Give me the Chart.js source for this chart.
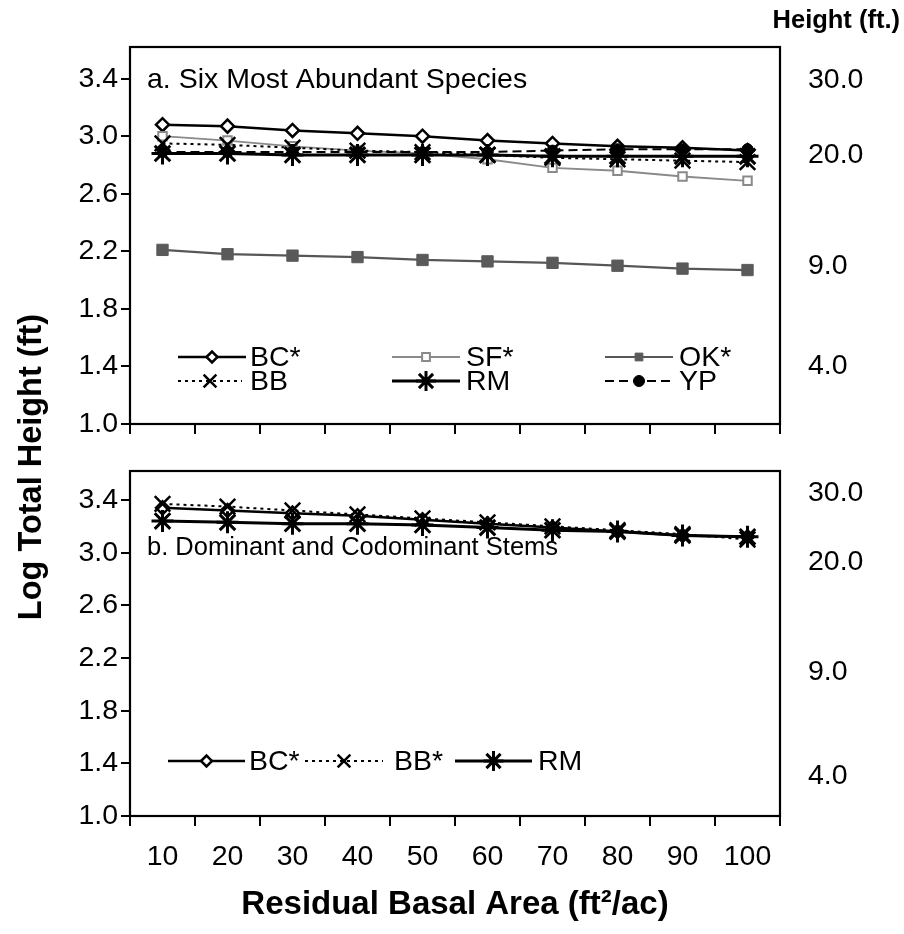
<!DOCTYPE html>
<html><head><meta charset="utf-8">
<script src="https://cdn.jsdelivr.net/npm/chart.js@4.4.1/dist/chart.umd.min.js"></script>
<style>
body{margin:0;background:#fff;width:904px;height:934px;position:relative;overflow:hidden;font-family:"Liberation Sans",Arial,sans-serif;}
.wrap{position:absolute;left:0;}
#ytitle{position:absolute;left:-270px;top:448px;width:600px;text-align:center;font-weight:bold;font-size:32.5px;line-height:38px;transform:rotate(-90deg);color:#000;}
#rtitle{position:absolute;right:4px;top:4px;font-weight:bold;font-size:25.5px;line-height:30px;color:#000;}
</style></head><body>
<div class="wrap" style="top:0;width:904px;height:450px"><canvas id="c1" width="904" height="450"></canvas></div>
<div class="wrap" style="top:450px;width:904px;height:484px"><canvas id="c2" width="904" height="484"></canvas></div>
<div id="ytitle">Log Total Height (ft)</div>
<div id="rtitle">Height (ft.)</div>
<script>
// ---- data ----
const categories = ['10','20','30','40','50','60','70','80','90','100'];
const topBC = [3.08, 3.07, 3.04, 3.02, 3.00, 2.97, 2.95, 2.93, 2.92, 2.90];
const topSF = [3.00, 2.97, 2.93, 2.90, 2.88, 2.84, 2.78, 2.76, 2.72, 2.69];
const topOK = [2.21, 2.18, 2.17, 2.16, 2.14, 2.13, 2.12, 2.10, 2.08, 2.07];
const topBB = [2.95, 2.94, 2.92, 2.90, 2.89, 2.87, 2.85, 2.84, 2.83, 2.82];
const topRM = [2.88, 2.88, 2.87, 2.87, 2.87, 2.87, 2.86, 2.86, 2.86, 2.86];
const topYP = [2.89, 2.89, 2.89, 2.89, 2.89, 2.89, 2.90, 2.91, 2.91, 2.91];
const botBC = [3.34, 3.32, 3.30, 3.28, 3.25, 3.22, 3.19, 3.16, 3.13, 3.12];
const botBB = [3.37, 3.35, 3.32, 3.29, 3.26, 3.23, 3.20, 3.17, 3.14, 3.10];
const botRM = [3.24, 3.23, 3.22, 3.22, 3.21, 3.19, 3.17, 3.16, 3.13, 3.12];
const logTicks = [1.0, 1.4, 1.8, 2.2, 2.6, 3.0, 3.4];
// right-hand "Height (ft.)" labels and where they sit on the log scale
const heightLabels = ['30.0', '20.0', '9.0', '4.0'];
const topHeightPos = [3.39, 2.87, 2.10, 1.40];
const botHeightPos = [3.45, 2.93, 2.09, 1.30];
const topTitle = 'a. Six Most Abundant Species';
const botTitle = 'b. Dominant and Codominant Stems';

const FONT = '"Liberation Sans", Arial, sans-serif';
const FS = 28.5;
Chart.defaults.font.family = FONT;
Chart.defaults.color = '#000';

const styles = {
  BC: {borderColor:'#000', borderWidth:2.5, pointStyle:'rectRot', pointRadius:6.5, pointBackgroundColor:'#fff', pointBorderColor:'#000', pointBorderWidth:2.5},
  SF: {borderColor:'#8a8a8a', borderWidth:1.8, pointStyle:'rect', pointRadius:6, pointBackgroundColor:'#fff', pointBorderColor:'#8a8a8a', pointBorderWidth:2},
  OK: {borderColor:'#575757', borderWidth:2.2, pointStyle:'rect', pointRadius:8, pointBackgroundColor:'#5a5a5a', pointBorderColor:'#5a5a5a', pointBorderWidth:1},
  BB: {borderColor:'#000', borderWidth:2, borderDash:[3,4], pointStyle:'crossRot', pointRadius:11, pointBackgroundColor:'#000', pointBorderColor:'#000', pointBorderWidth:2.5},
  RM: {borderColor:'#000', borderWidth:3, pointStyle:'star', pointRadius:11, pointBackgroundColor:'#000', pointBorderColor:'#000', pointBorderWidth:3},
  YP: {borderColor:'#000', borderWidth:2, borderDash:[9,5], pointStyle:'circle', pointRadius:5.5, pointBackgroundColor:'#000', pointBorderColor:'#000', pointBorderWidth:1}
};
function ds(label, key, data, order){
  return Object.assign({label, data, order, yAxisID:'y', tension:0, fill:false, pointHoverRadius:0}, styles[key]);
}

function drawLegendItem(ctx, x1, x2, y, st, text, tx){
  ctx.save();
  ctx.strokeStyle = st.borderColor; ctx.lineWidth = st.borderWidth;
  ctx.setLineDash(st.borderDash || []);
  ctx.beginPath(); ctx.moveTo(x1, y); ctx.lineTo(x2, y); ctx.stroke();
  ctx.setLineDash([]);
  ctx.fillStyle = st.pointBackgroundColor; ctx.strokeStyle = st.pointBorderColor; ctx.lineWidth = st.pointBorderWidth;
  const r = st.pointStyle === 'star' ? 10 : (st.pointStyle === 'crossRot' ? 9 : 5.5);
  Chart.helpers.drawPoint(ctx, {pointStyle: st.pointStyle, rotation:0, radius:r, borderWidth: st.pointBorderWidth}, (x1+x2)/2, y);
  ctx.fillStyle = '#000'; ctx.font = FS + 'px ' + FONT; ctx.textBaseline = 'middle'; ctx.textAlign = 'left';
  ctx.fillText(text, tx, y + 1);
  ctx.restore();
}

function framePlugin(title, titleY, titleSize, legendItems){
  return {
    id: 'frame',
    afterDraw(chart){
      const {ctx, chartArea: a} = chart;
      ctx.save();
      ctx.strokeStyle = '#000'; ctx.lineWidth = 2.2;
      ctx.strokeRect(a.left, a.top, a.right - a.left, a.bottom - a.top);
      ctx.fillStyle = '#000'; ctx.font = titleSize + 'px ' + FONT; ctx.textBaseline = 'middle'; ctx.textAlign = 'left';
      ctx.fillText(title, 147, titleY);
      ctx.restore();
      legendItems.forEach(it => drawLegendItem(ctx, it[0], it[1], it[2], styles[it[3]], it[4], it[5]));
    }
  };
}

function scales(xHeight, showX, heightPos){
  return {
    x: {
      type:'category', offset:true,
      grid:{offset:true, drawOnChartArea:false, drawTicks:true, tickLength:10, color:'#000', lineWidth:2},
      border:{display:false},
      ticks:{display:showX, color:'#000', font:{size:FS}, padding:14, maxRotation:0, autoSkip:false},
      title: showX ? {display:true, text:'Residual Basal Area (ft\u00B2/ac)', font:{size:33, weight:'bold'}, color:'#000', padding:{top:0, bottom:9}} : {display:false},
      afterFit(s){ s.height = xHeight; s.paddingLeft = 0; s.paddingRight = 0; }
    },
    y: {
      position:'left', min:1.0, max:3.62,
      afterBuildTicks(s){ s.ticks = logTicks.map(v => ({value:v})); },
      ticks:{callback: v => Number(v).toFixed(1), font:{size:FS}, color:'#000', padding:3},
      grid:{drawOnChartArea:false, drawTicks:true, tickLength:9, color:'#000', lineWidth:2},
      border:{display:false},
      afterFit(s){ s.width = 130; s.paddingTop = 0; s.paddingBottom = 0; }
    },
    y2: {
      position:'right', min:1.0, max:3.62,
      afterBuildTicks(s){ s.ticks = heightPos.map(v => ({value:v})); },
      ticks:{callback: (v, i) => heightLabels[i], font:{size:FS}, color:'#000', padding:4},
      grid:{display:true, drawOnChartArea:false, drawTicks:true, tickLength:24, color:'rgba(0,0,0,0)'},
      border:{display:false},
      afterFit(s){ s.width = 124; s.paddingTop = 0; s.paddingBottom = 0; }
    }
  };
}

const common = {responsive:false, animation:false, plugins:{legend:{display:false}, tooltip:{enabled:false}}, events:[]};

new Chart(document.getElementById('c1'), {
  type:'line',
  data:{labels:categories, datasets:[
    ds('BC*','BC',topBC,5), ds('SF*','SF',topSF,4), ds('OK*','OK',topOK,3),
    ds('BB','BB',topBB,2), ds('RM','RM',topRM,1), ds('YP','YP',topYP,0)
  ]},
  options:Object.assign({}, common, {layout:{padding:{top:47, left:0, right:0, bottom:0}}, scales:scales(26, false, topHeightPos)}),
  plugins:[framePlugin(topTitle, 80, FS, [
    [178,246,357,'BC','BC*',250],[392,460,357,'SF','SF*',466],[605,673,357,'OK','OK*',679],
    [178,242,381,'BB','BB',250],[392,460,381,'RM','RM',466],[605,673,381,'YP','YP',679]
  ])]
});

new Chart(document.getElementById('c2'), {
  type:'line',
  data:{labels:categories, datasets:[
    ds('BC*','BC',botBC,2), ds('BB*','BB',botBB,1), ds('RM','RM',botRM,0)
  ]},
  options:Object.assign({}, common, {layout:{padding:{top:21, left:0, right:0, bottom:0}}, scales:scales(118, true, botHeightPos)}),
  plugins:[framePlugin(botTitle, 98, 25.5, [
    [168,245,311,'BC','BC*',249],[305,383,311,'BB','BB*',394],[455,532,311,'RM','RM',538]
  ])]
});
</script>
</body></html>
